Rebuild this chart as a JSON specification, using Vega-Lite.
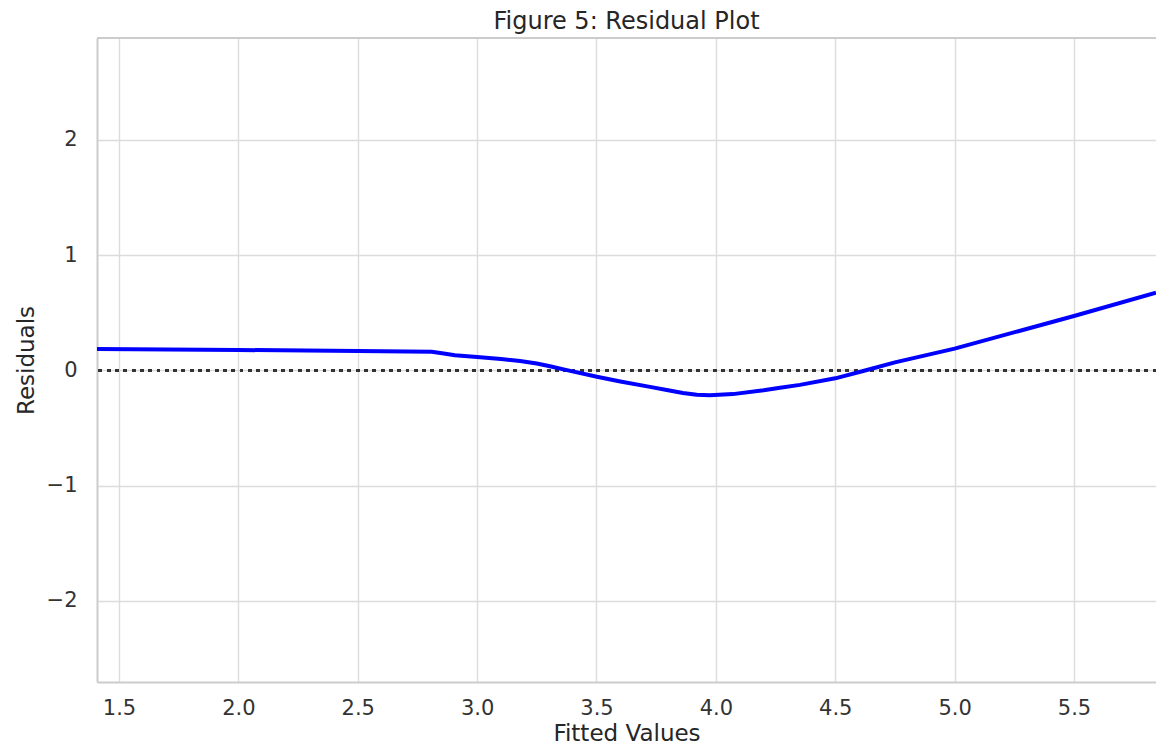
{
  "$schema": "https://vega.github.io/schema/vega-lite/v6.json",
  "autosize": {"type": "none"},
  "width": 1059,
  "height": 644,
  "padding": {"left": 97, "top": 38, "right": 0, "bottom": 62},
  "background": "white",
  "title": {
    "text": "Figure 5: Residual Plot",
    "font": "DejaVu Sans",
    "fontSize": 24,
    "fontWeight": "normal",
    "color": "#262626",
    "baseline": "alphabetic",
    "frame": "group",
    "offset": -16,
    "anchor": "middle"
  },
  "config": {
    "view": {"stroke": null},
    "axis": {
      "labelFont": "DejaVu Sans",
      "labelFontSize": 21,
      "labelColor": "#333333",
      "titleFont": "DejaVu Sans",
      "titleFontSize": 23,
      "titleFontWeight": "normal",
      "titleColor": "#262626",
      "ticks": false,
      "tickSize": 0,
      "grid": true,
      "gridColor": "#dcdcdc",
      "gridWidth": 1.4,
      "domain": true,
      "domainColor": "#cccccc",
      "domainWidth": 2
    }
  },
  "datasets": {
    "resid": [
      {"fitted": 1.408, "residual": 0.186},
      {"fitted": 2.0, "residual": 0.178},
      {"fitted": 2.5, "residual": 0.169},
      {"fitted": 2.81, "residual": 0.162},
      {"fitted": 2.86, "residual": 0.148},
      {"fitted": 2.907, "residual": 0.132},
      {"fitted": 3.0, "residual": 0.118},
      {"fitted": 3.1, "residual": 0.1},
      {"fitted": 3.18, "residual": 0.082},
      {"fitted": 3.25, "residual": 0.06},
      {"fitted": 3.305, "residual": 0.037},
      {"fitted": 3.376, "residual": 0.003},
      {"fitted": 3.502, "residual": -0.055},
      {"fitted": 3.6, "residual": -0.095},
      {"fitted": 3.724, "residual": -0.142},
      {"fitted": 3.8, "residual": -0.172},
      {"fitted": 3.862, "residual": -0.196},
      {"fitted": 3.92, "residual": -0.21},
      {"fitted": 3.975, "residual": -0.215},
      {"fitted": 4.071, "residual": -0.205},
      {"fitted": 4.2, "residual": -0.172},
      {"fitted": 4.269, "residual": -0.15},
      {"fitted": 4.352, "residual": -0.125},
      {"fitted": 4.5, "residual": -0.068},
      {"fitted": 4.625, "residual": 0.0},
      {"fitted": 4.75, "residual": 0.07},
      {"fitted": 5.0, "residual": 0.19},
      {"fitted": 5.5, "residual": 0.473},
      {"fitted": 5.8435, "residual": 0.675}
    ],
    "frame": [
      {"top": 2.885}
    ]
  },
  "layer": [
    {
      "data": {"name": "frame"},
      "mark": {"type": "rule", "color": "#cccccc", "strokeWidth": 2},
      "encoding": {
        "y": {"field": "top", "type": "quantitative"}
      }
    },
    {
      "data": {"name": "resid"},
      "mark": {"type": "rule", "color": "#333333", "strokeWidth": 2.5, "strokeDash": [3, 5.3]},
      "encoding": {
        "y": {"datum": 0, "type": "quantitative"}
      }
    },
    {
      "data": {"name": "resid"},
      "mark": {"type": "line", "color": "#0000ff", "strokeWidth": 4, "clip": true},
      "encoding": {
        "x": {
          "field": "fitted",
          "type": "quantitative",
          "scale": {"domain": [1.4079, 5.8435], "nice": false, "zero": false},
          "axis": {
            "title": "Fitted Values",
            "values": [1.5, 2.0, 2.5, 3.0, 3.5, 4.0, 4.5, 5.0, 5.5],
            "format": ".1f",
            "labelPadding": 15,
            "titlePadding": 4
          }
        },
        "y": {
          "field": "residual",
          "type": "quantitative",
          "scale": {"domain": [-2.703, 2.885], "nice": false, "zero": false},
          "axis": {
            "title": "Residuals",
            "values": [-2, -1, 0, 1, 2],
            "format": "d",
            "labelPadding": 20,
            "titlePadding": 8
          }
        }
      }
    }
  ]
}
